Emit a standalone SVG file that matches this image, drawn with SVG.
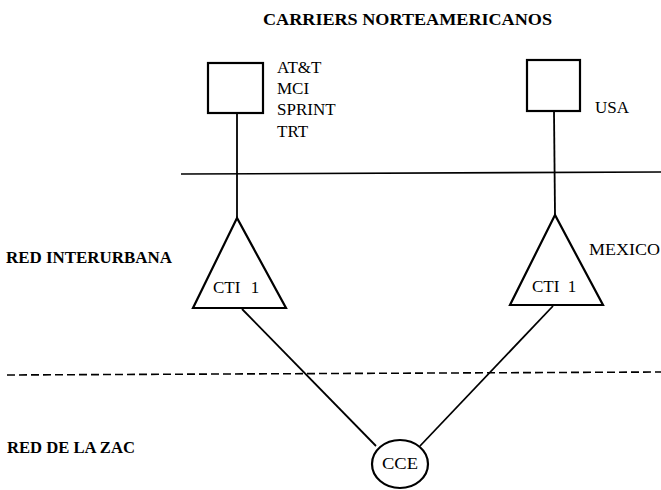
<svg xmlns="http://www.w3.org/2000/svg" width="661" height="490" viewBox="0 0 661 490">
  <style>
    .bg { fill: #ffffff; }
    .shape { fill: #ffffff; stroke: #000000; stroke-width: 2.2; }
    .link { fill: none; stroke: #000000; stroke-width: 1.8; }
    .divider { fill: none; stroke: #000000; stroke-width: 1.6; }
    .dashed { stroke-dasharray: 8 4; }
    .label { font-family: "Liberation Serif", "Times New Roman", serif; font-size: 17px; fill: #000000; }
    .heading { font-family: "Liberation Serif", "Times New Roman", serif; font-size: 17px; font-weight: bold; fill: #000000; }
  </style>
  <rect class="bg" x="0" y="0" width="661" height="490"/>

  <!-- Region titles and separators -->
  <g id="regions">
    <text class="heading" x="263" y="25" textLength="289" lengthAdjust="spacingAndGlyphs">CARRIERS NORTEAMERICANOS</text>
    <line class="divider" x1="181" y1="174" x2="661" y2="172"/>
    <text class="heading" x="6" y="263" textLength="166" lengthAdjust="spacingAndGlyphs">RED INTERURBANA</text>
    <line class="divider dashed" x1="7" y1="375" x2="661" y2="372"/>
    <text class="heading" x="7" y="453" textLength="128" lengthAdjust="spacingAndGlyphs">RED DE LA ZAC</text>
  </g>

  <!-- Connectors -->
  <g id="connectors">
    <line class="link" x1="237" y1="113" x2="237" y2="218"/>
    <line class="link" x1="554" y1="111" x2="555" y2="215"/>
    <line class="link" x1="242" y1="309" x2="376" y2="446"/>
    <line class="link" x1="553" y1="306" x2="420" y2="446"/>
  </g>

  <!-- US carriers -->
  <g id="carrier-us-left">
    <rect class="shape" x="208" y="63" width="55" height="50"/>
    <text class="label" x="277" y="73">AT&amp;T</text>
    <text class="label" x="277" y="94">MCI</text>
    <text class="label" x="277" y="115">SPRINT</text>
    <text class="label" x="277" y="137">TRT</text>
  </g>
  <g id="carrier-us-right">
    <rect class="shape" x="527" y="60" width="53" height="51"/>
    <text class="label" x="595" y="113">USA</text>
  </g>

  <!-- Long distance exchanges -->
  <g id="cti-left">
    <polygon class="shape" points="237,218 193,308 286,308"/>
    <text class="label" x="213" y="293" font-size="18" word-spacing="6">CTI 1</text>
  </g>
  <g id="cti-right">
    <polygon class="shape" points="555,215 510,305 603,305"/>
    <text class="label" x="532" y="292" font-size="17" word-spacing="4">CTI 1</text>
    <text class="label" x="589" y="255" textLength="71" lengthAdjust="spacingAndGlyphs">MEXICO</text>
  </g>

  <!-- Local exchange -->
  <g id="cce">
    <ellipse class="shape" cx="400" cy="464" rx="28" ry="24"/>
    <text class="label" x="382" y="469" font-size="16" textLength="36" lengthAdjust="spacingAndGlyphs">CCE</text>
  </g>
</svg>
